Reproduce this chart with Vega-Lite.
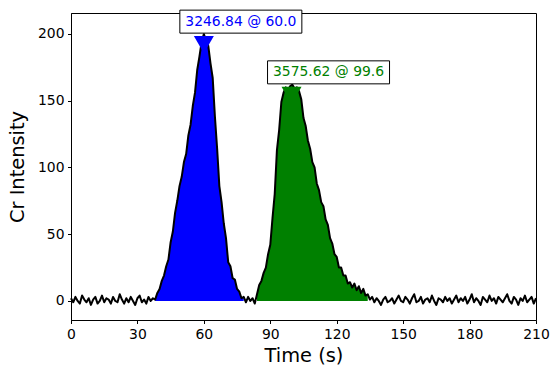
{
  "$schema": "https://vega.github.io/schema/vega-lite/v6.json",
  "width": 465,
  "height": 307,
  "autosize": "none",
  "padding": {"left": 71, "top": 13, "right": 22, "bottom": 59},
  "background": "white",
  "config": {
    "view": {"stroke": "black", "strokeWidth": 1},
    "axis": {
      "grid": false,
      "labelFont": "DejaVu Sans",
      "labelFontSize": 13.9,
      "labelColor": "black",
      "labelFlush": false,
      "labelOverlap": false,
      "tickColor": "black",
      "tickSize": 3.5,
      "tickWidth": 1,
      "domainColor": "black",
      "domainWidth": 1,
      "labelPadding": 3.5,
      "titleFont": "DejaVu Sans",
      "titleFontSize": 19.4,
      "titleFontWeight": "normal",
      "titleColor": "black"
    }
  },
  "datasets": {
    "sig": [
      {"t":0,"v":2},{"t":1,"v":-1},{"t":2,"v":3},{"t":3,"v":0},{"t":4,"v":-2},{"t":5,"v":4},{"t":6,"v":1},{"t":7,"v":-1},{"t":8,"v":2},{"t":9,"v":-3},
      {"t":10,"v":1},{"t":11,"v":3},{"t":12,"v":-2},{"t":13,"v":0},{"t":14,"v":4},{"t":15,"v":-1},{"t":16,"v":2},{"t":17,"v":1},{"t":18,"v":-2},{"t":19,"v":3},
      {"t":20,"v":0},{"t":21,"v":-1},{"t":22,"v":5},{"t":23,"v":1},{"t":24,"v":-2},{"t":25,"v":2},{"t":26,"v":-1},{"t":27,"v":3},{"t":28,"v":0},{"t":29,"v":-3},
      {"t":30,"v":2},{"t":31,"v":4},{"t":32,"v":-1},{"t":33,"v":1},{"t":34,"v":-2},{"t":35,"v":3},{"t":36,"v":0},{"t":37,"v":2},{"t":38,"v":1},{"t":39,"v":6},
      {"t":40,"v":9},{"t":41,"v":15},{"t":42,"v":19},{"t":43,"v":26},{"t":44,"v":31},{"t":45,"v":44},{"t":46,"v":52},{"t":47,"v":66},{"t":48,"v":75},{"t":49,"v":86},
      {"t":50,"v":93},{"t":51,"v":104},{"t":52,"v":110},{"t":53,"v":124},{"t":54,"v":132},{"t":55,"v":146},{"t":56,"v":156},{"t":57,"v":173},{"t":58,"v":183},{"t":59,"v":194},
      {"t":60,"v":200},{"t":61,"v":195},{"t":62,"v":191},{"t":63,"v":178},{"t":64,"v":167},{"t":65,"v":138},{"t":66,"v":114},{"t":67,"v":86},{"t":68,"v":74},{"t":69,"v":58},
      {"t":70,"v":47},{"t":71,"v":29},{"t":72,"v":26},{"t":73,"v":17},{"t":74,"v":16},{"t":75,"v":9},{"t":76,"v":7},{"t":77,"v":2},{"t":78,"v":3},{"t":79,"v":-1},
      {"t":80,"v":3},{"t":81,"v":0},{"t":82,"v":2},{"t":83,"v":-2},{"t":84,"v":5},{"t":85,"v":12},{"t":86,"v":15},{"t":87,"v":21},{"t":88,"v":25},{"t":89,"v":35},
      {"t":90,"v":42},{"t":91,"v":62},{"t":92,"v":80},{"t":93,"v":113},{"t":94,"v":128},{"t":95,"v":149},{"t":96,"v":156},{"t":97,"v":160},{"t":98,"v":158},{"t":99,"v":161},
      {"t":100,"v":162},{"t":101,"v":159},{"t":102,"v":160},{"t":103,"v":157},{"t":104,"v":151},{"t":105,"v":137},{"t":106,"v":131},{"t":107,"v":120},{"t":108,"v":114},{"t":109,"v":104},
      {"t":110,"v":100},{"t":111,"v":88},{"t":112,"v":83},{"t":113,"v":74},{"t":114,"v":71},{"t":115,"v":61},{"t":116,"v":57},{"t":117,"v":47},{"t":118,"v":43},{"t":119,"v":35},
      {"t":120,"v":33},{"t":121,"v":25},{"t":122,"v":25},{"t":123,"v":19},{"t":124,"v":19},{"t":125,"v":13},{"t":126,"v":14},{"t":127,"v":10},{"t":128,"v":13},{"t":129,"v":8},
      {"t":130,"v":11},{"t":131,"v":6},{"t":132,"v":9},{"t":133,"v":4},{"t":134,"v":5},{"t":135,"v":1},{"t":136,"v":3},{"t":137,"v":-1},{"t":138,"v":2},{"t":139,"v":0},
      {"t":140,"v":-3},{"t":141,"v":1},{"t":142,"v":3},{"t":143,"v":-1},{"t":144,"v":0},{"t":145,"v":2},{"t":146,"v":-2},{"t":147,"v":1},{"t":148,"v":4},{"t":149,"v":0},
      {"t":150,"v":-1},{"t":151,"v":3},{"t":152,"v":1},{"t":153,"v":-2},{"t":154,"v":2},{"t":155,"v":5},{"t":156,"v":-1},{"t":157,"v":0},{"t":158,"v":3},{"t":159,"v":-2},
      {"t":160,"v":1},{"t":161,"v":2},{"t":162,"v":-1},{"t":163,"v":4},{"t":164,"v":0},{"t":165,"v":-3},{"t":166,"v":2},{"t":167,"v":1},{"t":168,"v":-1},{"t":169,"v":3},
      {"t":170,"v":0},{"t":171,"v":2},{"t":172,"v":-2},{"t":173,"v":1},{"t":174,"v":4},{"t":175,"v":-1},{"t":176,"v":2},{"t":177,"v":0},{"t":178,"v":3},{"t":179,"v":-2},
      {"t":180,"v":1},{"t":181,"v":5},{"t":182,"v":-1},{"t":183,"v":2},{"t":184,"v":0},{"t":185,"v":-3},{"t":186,"v":3},{"t":187,"v":1},{"t":188,"v":-1},{"t":189,"v":4},
      {"t":190,"v":0},{"t":191,"v":2},{"t":192,"v":-2},{"t":193,"v":3},{"t":194,"v":1},{"t":195,"v":-1},{"t":196,"v":2},{"t":197,"v":5},{"t":198,"v":0},{"t":199,"v":-2},
      {"t":200,"v":3},{"t":201,"v":1},{"t":202,"v":-3},{"t":203,"v":2},{"t":204,"v":0},{"t":205,"v":4},{"t":206,"v":-1},{"t":207,"v":1},{"t":208,"v":3},{"t":209,"v":-2},
      {"t":210,"v":2}
    ],
    "peaks": [
      {"t": 60.0, "v": 192, "label": "3246.84 @ 60.0", "c": "#0000ff"},
      {"t": 99.6, "v": 154, "label": "3575.62 @ 99.6", "c": "#008000"}
    ]
  },
  "layer": [
    {
      "data": {"name": "sig"},
      "transform": [{"filter": {"field": "t", "range": [38, 78]}}],
      "mark": {"type": "area", "color": "#0000ff", "opacity": 1},
      "encoding": {
        "x": {"field": "t", "type": "quantitative", "scale": {"domain": [0, 210], "nice": false, "zero": false},
              "axis": {"values": [0, 30, 60, 90, 120, 150, 180, 210], "title": "Time (s)", "titlePadding": 6}},
        "y": {"field": "v", "type": "quantitative", "scale": {"domain": [-14.3, 215.7], "nice": false, "zero": false},
              "axis": {"values": [0, 50, 100, 150, 200], "title": "Cr Intensity", "titlePadding": 10}},
        "y2": {"datum": 0}
      }
    },
    {
      "data": {"name": "sig"},
      "transform": [{"filter": {"field": "t", "range": [84, 134]}}],
      "mark": {"type": "area", "color": "#008000", "opacity": 1},
      "encoding": {
        "x": {"field": "t", "type": "quantitative"},
        "y": {"field": "v", "type": "quantitative"},
        "y2": {"datum": 0}
      }
    },
    {
      "data": {"name": "sig"},
      "mark": {"type": "line", "color": "black", "strokeWidth": 2, "strokeJoin": "round"},
      "encoding": {
        "x": {"field": "t", "type": "quantitative"},
        "y": {"field": "v", "type": "quantitative"}
      }
    },
    {
      "data": {"name": "peaks"},
      "mark": {"type": "point", "shape": "triangle-down", "size": 400, "filled": true, "opacity": 1, "strokeWidth": 0},
      "encoding": {
        "x": {"field": "t", "type": "quantitative"},
        "y": {"field": "v", "type": "quantitative"},
        "color": {"field": "c", "type": "nominal", "scale": null}
      }
    },
    {
      "data": {"name": "peaks"},
      "mark": {"type": "point", "shape": "M-1,-0.1885H1V0.1885H-1Z", "size": 14884, "filled": true, "fill": "white", "stroke": "black", "strokeWidth": 1, "opacity": 1, "fillOpacity": 1, "xOffset": 37, "yOffset": -23},
      "encoding": {
        "x": {"field": "t", "type": "quantitative"},
        "y": {"field": "v", "type": "quantitative"}
      }
    },
    {
      "data": {"name": "peaks"},
      "mark": {"type": "text", "font": "DejaVu Sans", "fontSize": 13.9, "align": "center", "baseline": "middle", "dx": 37, "dy": -23},
      "encoding": {
        "x": {"field": "t", "type": "quantitative"},
        "y": {"field": "v", "type": "quantitative"},
        "text": {"field": "label"},
        "color": {"field": "c", "type": "nominal", "scale": null}
      }
    }
  ]
}
